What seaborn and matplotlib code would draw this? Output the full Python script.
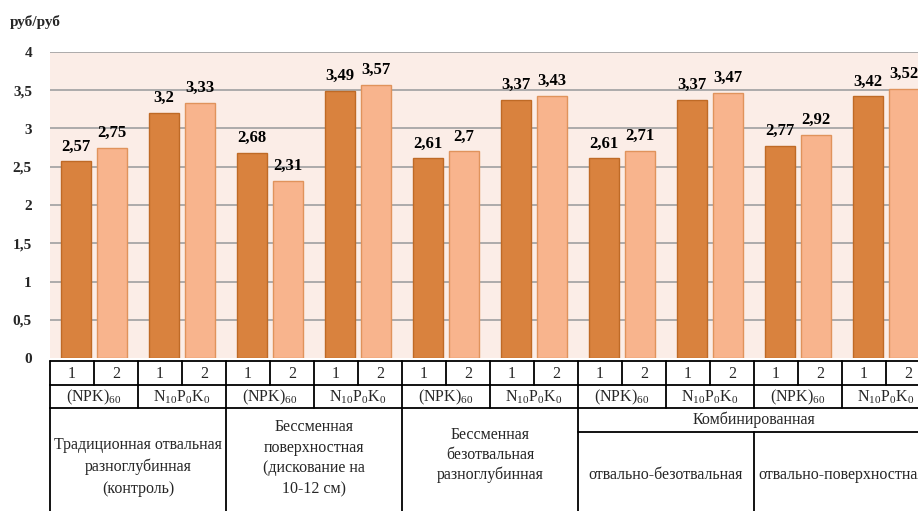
import matplotlib
matplotlib.use("Agg")
import matplotlib.pyplot as plt
import numpy as np
import pandas as pd
import seaborn as sns

# Payback of costs (rub per rub) by tillage system, fertilizer and variant
tillage = [
    "Традиционная отвальная\nразноглубинная\n(контроль)",
    "Бессменная\nповерхностная\n(дискование на\n10-12 см)",
    "Бессменная\nбезотвальная\nразноглубинная",
    "отвально-безотвальная",
    "отвально-поверхностная",
]
combined_label = "Комбинированная"
fertilizers = [r"(NPK)$_{\mathregular{60}}$",
               r"N$_{\mathregular{10}}$P$_{\mathregular{0}}$K$_{\mathregular{0}}$"]
variants = ["1", "2"]
values_1 = [2.57, 3.20, 2.68, 3.49, 2.61, 3.37, 2.61, 3.37, 2.77, 3.42]
values_2 = [2.75, 3.33, 2.31, 3.57, 2.70, 3.43, 2.71, 3.47, 2.92, 3.52]
y_ticks = [0, 0.5, 1, 1.5, 2, 2.5, 3, 3.5, 4]
y_unit = "руб/руб"

sns.set_theme(style="white")
plt.rcParams["font.family"] = ["Liberation Serif", "DejaVu Serif"]
plt.rcParams["mathtext.fontset"] = "custom"
plt.rcParams["mathtext.rm"] = "Liberation Serif"
plt.rcParams["mathtext.it"] = "Liberation Serif:italic"

groups = [f"{t}|{f}" for t in range(len(tillage)) for f in range(len(fertilizers))]
df = pd.DataFrame({
    "group": groups * 2,
    "variant": [variants[0]] * len(groups) + [variants[1]] * len(groups),
    "value": values_1 + values_2,
})

W, H = 918, 511
fig = plt.figure(figsize=(W / 100, H / 100), dpi=100)
x0, x1 = 50, 930
ax = fig.add_axes([x0 / W, (H - 358) / H, (x1 - x0) / W, (358 - 52) / H])

dark, light = "#D9823E", "#F8B48D"
sns.barplot(data=df, x="group", y="value", hue="variant", order=groups,
            hue_order=variants, palette=[dark, light], saturation=1,
            width=0.82, gap=0.15, legend=False, ax=ax, zorder=3)
edges = ["#BF6A26", "#E0935C"]
for cont, ec, vals in zip(ax.containers, edges, [values_1, values_2]):
    for bar in cont:
        bar.set_edgecolor(ec)
        bar.set_linewidth(1.0)
    ax.bar_label(cont, labels=[f"{v:g}".replace(".", ",") for v in vals],
                 padding=5, fontsize=12, fontweight="bold", color="black")

ax.set_facecolor("#FBEDE7")
ax.set_xlim(-0.5, len(groups) - 0.5)
ax.set_ylim(0, 4)
ax.set_yticks(y_ticks)
ax.set_yticklabels([f"{t:g}".replace(".", ",") for t in y_ticks],
                   fontsize=11, fontweight="bold")
ax.tick_params(axis="y", length=0, pad=13)
ax.set_xticks([])
ax.set_xlabel("")
ax.set_ylabel("")
for s in ax.spines.values():
    s.set_visible(False)
for t in y_ticks[1:]:
    ax.axhline(t, color="#A6A6A6", lw=1.3, zorder=1)

fig.text(10 / W, 1 - 22 / H, y_unit, fontsize=11, fontweight="bold",
         ha="left", va="center")

# Category table under the bars
top, r1, r2, r3, bottom = 361, 384.5, 408, 432, 560
tab = fig.add_axes([x0 / W, (H - bottom) / H, (x1 - x0) / W, (bottom - top) / H])
tab.set_xlim(-0.5, len(groups) - 0.5)
tab.set_ylim(bottom, top)
tab.axis("off")
lc = dict(color="black", lw=1.3, clip_on=False)
n = len(groups)
for y in (top, r1, r2):
    tab.plot([-0.5, n - 0.5], [y, y], **lc)
tab.plot([5.5, n - 0.5], [r3, r3], **lc)
for k in range(2 * n + 1):
    tab.plot([k * 0.5 - 0.5] * 2, [top, r1], **lc)
for k in range(n + 1):
    tab.plot([k - 0.5] * 2, [r1, r2], **lc)
for xv in (-0.5, 1.5, 3.5, 5.5, 9.5):
    tab.plot([xv, xv], [r2, bottom], **lc)
tab.plot([7.5, 7.5], [r3, bottom], **lc)

fs = 11.5
for g in range(n):
    for j, v in enumerate(variants):
        tab.text(g - 0.25 + 0.5 * j, (top + r1) / 2 + 1, v, fontsize=fs,
                 ha="center", va="center")
    tab.text(g, (r1 + r2) / 2 + 1, fertilizers[g % 2], fontsize=fs,
             ha="center", va="center")

tab.text(0.5, 467, tillage[0], fontsize=fs, ha="center", va="center",
         linespacing=1.45)
tab.text(2.5, 458, tillage[1], fontsize=fs, ha="center", va="center",
         linespacing=1.4)
tab.text(4.5, 455, tillage[2], fontsize=fs, ha="center", va="center",
         linespacing=1.3)
tab.text(7.5, (r2 + r3) / 2, combined_label, fontsize=fs, ha="center", va="center")
tab.text(6.5, 475, tillage[3], fontsize=fs, ha="center", va="center")
tab.text(8.5, 475, tillage[4], fontsize=fs, ha="center", va="center")

fig.savefig("out.png", dpi=100)
